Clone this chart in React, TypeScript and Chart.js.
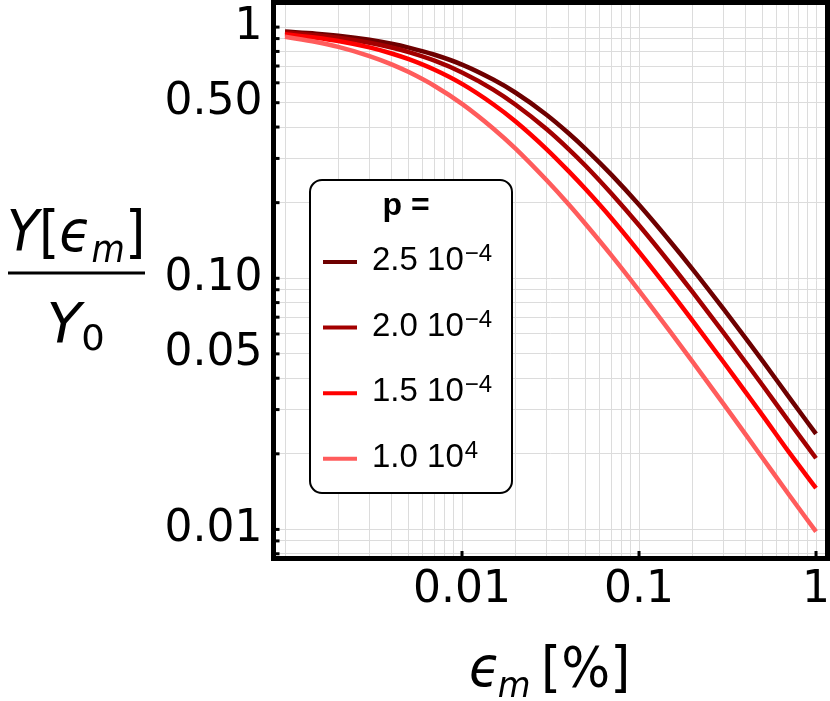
import { useEffect, useRef } from 'react'
import { Chart, registerables } from 'chart.js'

Chart.register(...registerables)

// strain values (%) and Y/Y0
const strain = [0.001, 0.0015, 0.002, 0.003, 0.004, 0.005, 0.007, 0.01, 0.015, 0.02, 0.03, 0.04, 0.05, 0.07, 0.1, 0.15, 0.2, 0.3, 0.4, 0.5, 0.7, 1]
const yP25 = [0.960, 0.942, 0.924, 0.890, 0.859, 0.829, 0.776, 0.709, 0.618, 0.549, 0.448, 0.378, 0.327, 0.258, 0.196, 0.140, 0.109, 0.0755, 0.0578, 0.0468, 0.0338, 0.0240]
const yP20 = [0.951, 0.928, 0.907, 0.866, 0.829, 0.795, 0.735, 0.660, 0.564, 0.492, 0.393, 0.327, 0.280, 0.217, 0.1625, 0.1145, 0.0884, 0.0607, 0.0463, 0.0374, 0.0270, 0.0192]
const yP15 = [0.936, 0.907, 0.880, 0.830, 0.785, 0.745, 0.676, 0.594, 0.493, 0.422, 0.327, 0.267, 0.226, 0.173, 0.1274, 0.0887, 0.0680, 0.0464, 0.0352, 0.0284, 0.0204, 0.0146]
const yP10 = [0.915, 0.872, 0.834, 0.767, 0.711, 0.662, 0.583, 0.495, 0.395, 0.329, 0.246, 0.197, 0.164, 0.123, 0.0893, 0.0613, 0.0467, 0.0316, 0.0239, 0.0192, 0.0138, 0.0098]

const seriesValues = [yP25, yP20, yP15, yP10]
const legendMantissa = ['2.5 10', '2.0 10', '1.5 10', '1.0 10']
const legendExponent = ['\u22124', '\u22124', '\u22124', '4']
const colors = ['#6e0000', '#a30000', '#ff0000', '#ff5c5c']

const xLabelValues = [0.01, 0.1, 1]
const xLabelText = ['0.01', '0.1', '1']
const yLabelValues = [1, 0.5, 0.1, 0.05, 0.01]
const yLabelText = ['1', '0.50', '0.10', '0.05', '0.01']

// grid lines at 1..9 x 10^k
const xGrid: number[] = []
for (let e = -3; e <= 0; e++) for (let m = 1; m <= 9; m++) { const v = +(m * Math.pow(10, e)).toPrecision(3); if (v <= 1) xGrid.push(v) }
const yGrid: number[] = []
for (let e = -3; e <= 0; e++) for (let m = 1; m <= 9; m++) { const v = +(m * Math.pow(10, e)).toPrecision(3); if (v >= 0.008 && v <= 1) yGrid.push(v) }

const SERIF = '"DejaVu Sans"'
const SANS = '"Liberation Sans"'

type Run = { text: string; font: string; dy?: number; dx?: number }

// draws a run of text so that its inked box fills [x0,x1] x [y0,y1]
function drawFitted(ctx: CanvasRenderingContext2D, runs: Run[], x0: number, x1: number, y0: number, y1: number) {
  let cx = 0
  let l = Infinity, r = -Infinity, t = Infinity, b = -Infinity
  const placed: { run: Run; x: number }[] = []
  for (const run of runs) {
    ctx.font = run.font
    const m = ctx.measureText(run.text)
    const x = cx + (run.dx || 0)
    const dy = run.dy || 0
    l = Math.min(l, x - m.actualBoundingBoxLeft)
    r = Math.max(r, x + m.actualBoundingBoxRight)
    t = Math.min(t, dy - m.actualBoundingBoxAscent)
    b = Math.max(b, dy + m.actualBoundingBoxDescent)
    placed.push({ run, x })
    cx = x + m.width
  }
  const sx = (x1 - x0) / (r - l)
  const sy = (y1 - y0) / (b - t)
  ctx.save()
  ctx.translate(x0, y0)
  ctx.scale(sx, sy)
  ctx.translate(-l, -t)
  ctx.textBaseline = 'alphabetic'
  ctx.textAlign = 'left'
  for (const p of placed) {
    ctx.font = p.run.font
    ctx.fillText(p.run.text, p.x, p.run.dy || 0)
  }
  ctx.restore()
}

const decorations = {
  id: 'decorations',
  afterDraw(chart: Chart) {
    const { ctx, chartArea: a } = chart
    const xs = chart.scales.x
    const ys = chart.scales.y
    ctx.save()
    ctx.fillStyle = '#000'
    // inside ticks
    for (const v of yGrid) {
      const py = ys.getPixelForValue(v)
      ctx.fillRect(a.left, py - 1.5, 6, 3)
    }
    for (const v of xLabelValues) {
      const px = xs.getPixelForValue(v)
      ctx.fillRect(px - 1.5, a.bottom - 7.5, 3, 7.5)
    }
    // frame
    ctx.strokeStyle = '#000'
    ctx.lineWidth = 5
    ctx.strokeRect(a.left, a.top, a.right - a.left, a.bottom - a.top)

    // legend
    ctx.beginPath()
    ctx.roundRect(310, 180, 202, 313, 12)
    ctx.fillStyle = '#fff'
    ctx.fill()
    ctx.lineWidth = 2
    ctx.stroke()
    ctx.fillStyle = '#000'
    ctx.textBaseline = 'alphabetic'
    ctx.textAlign = 'center'
    ctx.font = `bold 32px ${SANS}`
    ctx.fillText('p =', 406, 215)
    ctx.textAlign = 'left'
    legendMantissa.forEach((t, i) => {
      const ly = 262 + i * 65.6
      ctx.strokeStyle = colors[i]
      ctx.lineWidth = 4
      ctx.beginPath()
      ctx.moveTo(323, ly)
      ctx.lineTo(357, ly)
      ctx.stroke()
      ctx.font = `33px ${SANS}`
      ctx.fillText(t, 372, ly + 8)
      const w = ctx.measureText(t).width
      ctx.font = `24px ${SANS}`
      ctx.fillText(legendExponent[i], 372 + w + 1, ly - 1)
    })

    // axis titles
    ctx.fillStyle = '#000'
    const big = `52px ${SERIF}`
    const bigIt = `italic 52px ${SERIF}`
    const subIt = `italic 34px ${SERIF}`
    const sub = `34px ${SERIF}`
    drawFitted(ctx, [
      { text: 'Y', font: bigIt },
      { text: '[', font: big },
      { text: '\u03f5', font: bigIt },
      { text: 'm', font: subIt, dy: 10 },
      { text: ']', font: big },
    ], 10, 141, 208, 262)
    ctx.fillRect(8, 271.5, 137, 3)
    drawFitted(ctx, [
      { text: 'Y', font: bigIt },
      { text: '0', font: sub, dy: 8 },
    ], 50, 103, 302, 350)
    drawFitted(ctx, [
      { text: '\u03f5', font: bigIt },
      { text: 'm', font: subIt, dy: 10, dx: -3 },
      { text: ' [%]', font: big, dx: -6 },
    ], 470, 626, 645, 697)
    ctx.restore()
  },
}

export default function App() {
  const canvasRef = useRef<HTMLCanvasElement>(null)
  const chartRef = useRef<Chart | null>(null)

  useEffect(() => {
    if (!canvasRef.current) return
    chartRef.current?.destroy()

    chartRef.current = new Chart(canvasRef.current, {
      type: 'line',
      data: {
        datasets: seriesValues.map((vals, i) => ({
          label: legendMantissa[i],
          data: strain.map((x, j) => ({ x, y: vals[j] })),
          borderColor: colors[i],
          borderWidth: 4.5,
          pointRadius: 0,
          cubicInterpolationMode: 'monotone' as const,
          fill: false,
          order: 4 - i,
        })),
      },
      options: {
        responsive: true,
        maintainAspectRatio: false,
        animation: false,
        layout: { padding: { top: 2.5, right: 2.5, left: 0, bottom: 0 } },
        plugins: { legend: { display: false }, tooltip: { enabled: false } },
        scales: {
          x: {
            type: 'logarithmic',
            min: 0.000861,
            max: 1.161,
            afterBuildTicks: (s: any) => { s.ticks = xGrid.map(v => ({ value: v })) },
            afterFit: (s: any) => { s.height = 142.5; s.paddingLeft = 0; s.paddingRight = 0 },
            grid: { color: '#dcdcdc', lineWidth: 1, drawTicks: false },
            border: { display: false },
            ticks: {
              autoSkip: false,
              maxRotation: 0,
              padding: 6,
              color: '#000',
              font: { family: 'DejaVu Sans', size: 44 },
              callback: (v: any) => {
                const k = xLabelValues.findIndex(t => Math.abs(t - v) < 1e-9)
                return k >= 0 ? xLabelText[k] : ''
              },
            },
          },
          y: {
            type: 'logarithmic',
            min: 0.00766,
            max: 1.253,
            afterBuildTicks: (s: any) => { s.ticks = yGrid.map(v => ({ value: v })) },
            afterFit: (s: any) => { s.width = 273.5; s.paddingTop = 0; s.paddingBottom = 0 },
            grid: { color: '#dcdcdc', lineWidth: 1, drawTicks: false },
            border: { display: false },
            ticks: {
              autoSkip: false,
              padding: 11,
              color: '#000',
              font: { family: 'DejaVu Sans', size: 44 },
              callback: (v: any) => {
                const k = yLabelValues.findIndex(t => Math.abs(t - v) < 1e-9)
                return k >= 0 ? yLabelText[k] : ''
              },
            },
          },
        },
      },
      plugins: [decorations],
    })

    return () => { chartRef.current?.destroy() }
  }, [])

  return (
    <div style={{ position: 'absolute', left: 0, top: 0, width: 830, height: 701, background: '#fff' }}>
      <canvas ref={canvasRef} />
    </div>
  )
}
